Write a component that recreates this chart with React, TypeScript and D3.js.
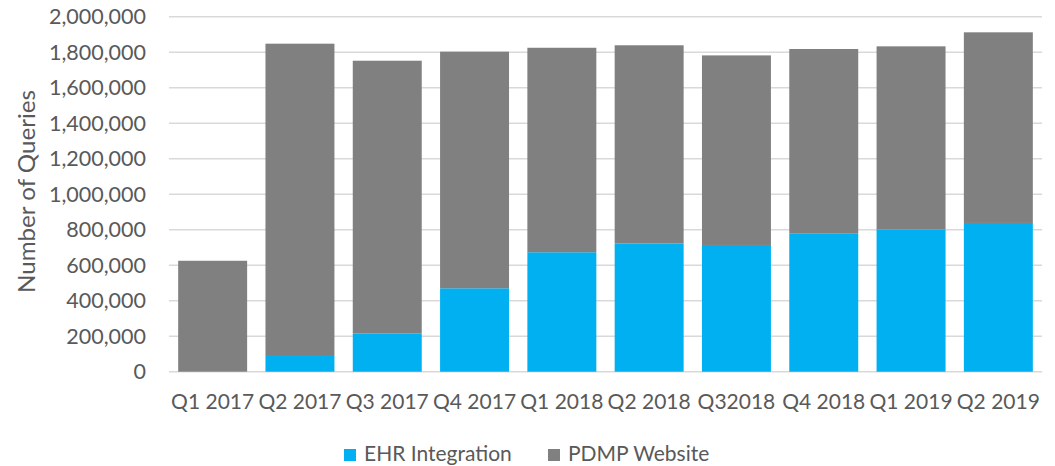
import React from "react";
import * as d3 from "d3";

const categories = ["Q1 2017", "Q2 2017", "Q3 2017", "Q4 2017", "Q1 2018", "Q2 2018", "Q32018", "Q4 2018", "Q1 2019", "Q2 2019"];
const ehrIntegration = [0, 94000, 216000, 470000, 673000, 723000, 714000, 780000, 802000, 838000];
const totals = [625000, 1848000, 1752000, 1803000, 1825000, 1839000, 1782000, 1818000, 1833000, 1912000];
const pdmpWebsite = totals.map((t, i) => t - ehrIntegration[i]);
const yTicks = [0, 200000, 400000, 600000, 800000, 1000000, 1200000, 1400000, 1600000, 1800000, 2000000];
const seriesNames = ["EHR Integration", "PDMP Website"];
const seriesColors = ["#00B0F0", "#808080"];

const W = 1055;
const H = 466;
const left = 169;
const right = 1042;
const top = 16.7;
const bottom = 371.7;
const FONT = "Lato, 'Open Sans', sans-serif";
const TEXT = "#595959";

export default function App() {
  const x = d3.scaleBand<string>().domain(categories).range([left, right]).paddingInner(0.21).paddingOuter(0.105);
  const y = d3.scaleLinear().domain([0, 2000000]).range([bottom, top]);
  const fmt = d3.format(",");
  const rows = categories.map((c, i) => ({ cat: c, ehr: ehrIntegration[i], pdmp: pdmpWebsite[i] }));
  const stack = d3.stack<any>().keys(["ehr", "pdmp"])(rows);

  return (
    <svg width={W} height={H} style={{ position: "absolute", left: 0, top: 0, background: "#fff" }}>
      {yTicks.map((t) => (
        <g key={t}>
          <line x1={left} x2={right} y1={y(t)} y2={y(t)} stroke="#d9d9d9" strokeWidth={1.5} />
          <text x={146} y={y(t)} dy="0.35em" textAnchor="end" fontFamily={FONT} fontSize={21.5} fill={TEXT}>
            {fmt(t)}
          </text>
        </g>
      ))}
      {stack.map((s, si) => (
        <g key={si} fill={seriesColors[si]}>
          {s.map((d, i) =>
            d[1] - d[0] > 0 ? (
              <rect key={i} x={x(categories[i])} width={x.bandwidth()} y={y(d[1])} height={y(d[0]) - y(d[1])} />
            ) : null
          )}
        </g>
      ))}
      {categories.map((c) => (
        <text key={c} x={(x(c) as number) + x.bandwidth() / 2} y={401.5} dy="0.35em" textAnchor="middle" fontFamily={FONT} fontSize={21} fill={TEXT}>
          {c}
        </text>
      ))}
      <text transform={`translate(35,191.5) rotate(-90)`} textAnchor="middle" fontFamily={FONT} fontSize={24} fill={TEXT} textLength={203} lengthAdjust="spacingAndGlyphs">
        Number of Queries
      </text>
      {seriesNames.map((n, i) => {
        const lx = i === 0 ? 344 : 548;
        return (
          <g key={n}>
            <rect x={lx} y={449} width={12} height={12} fill={seriesColors[i]} />
            <text x={lx + 20} y={453.5} dy="0.35em" fontFamily={FONT} fontSize={21} fill={TEXT}>
              {n}
            </text>
          </g>
        );
      })}
    </svg>
  );
}
